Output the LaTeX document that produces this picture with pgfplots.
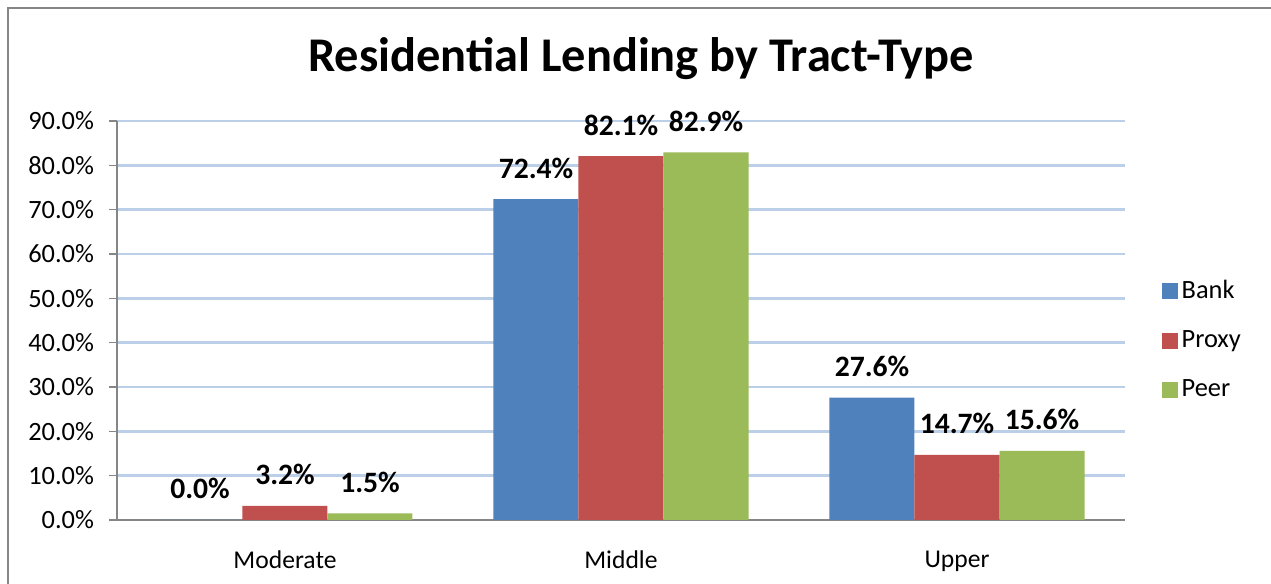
\documentclass[border=0pt]{standalone}
\usepackage{pgfplots}
\pgfplotsset{compat=1.18}
\usepackage{fontspec}
\setmainfont{Carlito}
\definecolor{cbank}{HTML}{4F81BD}
\definecolor{cproxy}{HTML}{C0504D}
\definecolor{cpeer}{HTML}{9BBB59}
\definecolor{cgrid}{HTML}{BCCFE8}
\definecolor{caxis}{HTML}{868686}
\begin{document}
\begin{tikzpicture}
\useasboundingbox (0pt,0pt) rectangle (635.5pt,292pt);
\draw[caxis,line width=1pt] (4pt,-10pt) -- (4pt,288pt) -- (645pt,288pt);
\node[anchor=base,font=\fontsize{24.2}{28}\selectfont\bfseries] at (320.5pt,256pt) {Residential Lending by Tract-Type};
\begin{axis}[
  at={(58.5pt,32pt)}, anchor=south west,
  scale only axis, width=504pt, height=199.5pt,
  ymin=0, ymax=90, xmin=-0.5, xmax=2.5,
  ybar=0pt, bar width=42.5pt,
  axis lines*=left,
  axis line style={caxis,line width=0.8pt},
  ytick={0,10,...,90},
  yticklabel={\pgfmathprintnumber[fixed,fixed zerofill,precision=1]{\tick}\%},
  /pgf/number format/assume math mode=true,
  yticklabel style={font=\fontsize{13.2}{15}\selectfont, xshift=-4pt},
  ymajorgrids, major grid style={cgrid,line width=1.2pt},
  xtick={0,1,2}, xticklabels={Moderate,Middle,Upper},
  xticklabel style={font=\fontsize{12.8}{15}\selectfont, yshift=-8pt},
  x tick style={draw=none},
  minor xtick={-0.5,0.5,1.5,2.5},
  minor x tick style={caxis,line width=0.8pt},
  y tick style={caxis,line width=0.8pt},
  tick align=outside, major tick length=4pt, minor tick length=4pt,
  xtick pos=bottom, ytick pos=left,
  nodes near coords={\pgfmathprintnumber[fixed,fixed zerofill,precision=1]{\pgfplotspointmeta}\%},
  nodes near coords style={font=\fontsize{14.8}{16}\selectfont\bfseries, anchor=base, yshift=10.5pt},
  legend style={draw=none, fill=none, at={(1.03,0.451)}, anchor=west,
    font=\fontsize{13.2}{15}\selectfont, row sep=10.5pt, legend cell align=left},
  legend image code/.code={\fill[#1] (0pt,-4pt) rectangle (8pt,4pt);},
  clip=false,
]
\addplot[fill=cbank, draw=none] coordinates {(0,0) (1,72.4) (2,27.6)};
\addplot[fill=cproxy, draw=none] coordinates {(0,3.2) (1,82.1) (2,14.7)};
\addplot[fill=cpeer, draw=none] coordinates {(0,1.5) (1,82.9) (2,15.6)};
\legend{Bank,Proxy,Peer}
\end{axis}
\end{tikzpicture}
\end{document}
